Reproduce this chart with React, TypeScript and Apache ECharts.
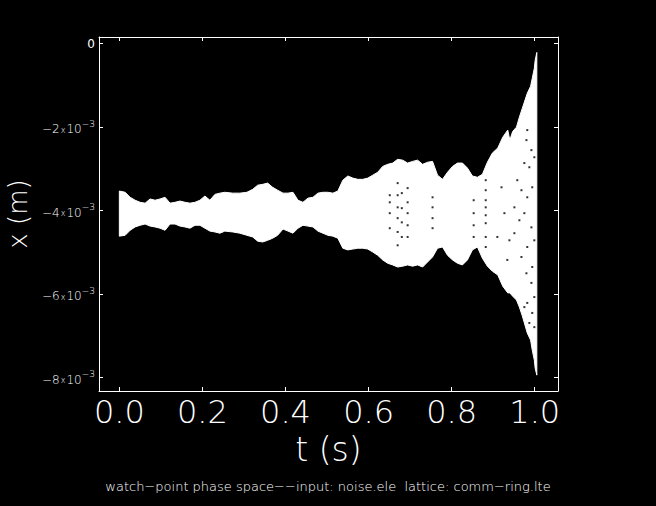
import React, { useEffect, useRef } from "react";
import * as echarts from "echarts";

// time samples (s)
const T = [0.000,0.014,0.026,0.038,0.050,0.062,0.074,0.086,0.098,0.110,0.122,0.134,0.146,0.158,0.170,0.182,0.194,0.206,0.218,0.230,0.242,0.254,
  0.273,0.290,0.307,0.321,0.333,0.345,0.357,0.369,0.381,0.394,0.406,0.418,0.430,0.442,0.454,0.466,0.478,0.490,0.502,0.514,0.526,0.538,0.550,
  0.562,0.574,0.586,0.598,0.610,0.622,0.634,0.646,0.658,0.670,0.682,0.694,0.706,0.718,0.730,0.742,0.754,0.766,0.778,0.790,0.802,0.814,0.826,
  0.838,0.850,0.862,0.874,0.886,0.898,0.911,0.923,0.935,0.940,0.947,0.956,0.963,0.970,0.975,0.982,0.990,0.994,0.999,1.001,1.005];

// upper envelope of x (units of 1e-3 m)
const UPPER = [-3.53,-3.56,-3.68,-3.75,-3.80,-3.82,-3.72,-3.75,-3.72,-3.68,-3.82,-3.80,-3.77,-3.80,-3.82,-3.80,-3.75,-3.65,-3.75,-3.61,-3.58,-3.56,
  -3.58,-3.58,-3.56,-3.49,-3.39,-3.37,-3.34,-3.44,-3.51,-3.58,-3.58,-3.56,-3.75,-3.80,-3.70,-3.68,-3.58,-3.56,-3.56,-3.58,-3.53,-3.27,-3.17,
  -3.22,-3.25,-3.25,-3.22,-3.15,-3.08,-2.94,-2.89,-2.86,-2.77,-2.79,-2.86,-2.82,-2.79,-2.89,-2.84,-2.82,-3.15,-3.25,-3.08,-2.94,-2.86,-2.86,
  -2.98,-3.17,-3.20,-3.13,-2.84,-2.62,-2.50,-2.24,-2.07,-2.31,-2.10,-2.00,-1.76,-1.55,-1.40,-1.19,-1.02,-0.83,-0.59,-0.40,-0.21];

// lower envelope of x (units of 1e-3 m)
const LOWER = [-4.61,-4.59,-4.47,-4.39,-4.35,-4.32,-4.37,-4.39,-4.42,-4.47,-4.32,-4.32,-4.37,-4.39,-4.42,-4.35,-4.35,-4.42,-4.49,-4.51,-4.54,-4.49,
  -4.51,-4.54,-4.59,-4.63,-4.73,-4.75,-4.71,-4.66,-4.59,-4.44,-4.49,-4.54,-4.42,-4.35,-4.37,-4.39,-4.49,-4.54,-4.59,-4.61,-4.66,-4.90,-4.94,
  -4.92,-4.90,-4.90,-4.92,-4.99,-5.07,-5.18,-5.26,-5.30,-5.35,-5.33,-5.30,-5.33,-5.30,-5.35,-5.23,-5.11,-4.90,-4.87,-5.07,-5.18,-5.26,-5.30,
  -5.18,-4.94,-4.87,-5.14,-5.33,-5.45,-5.54,-5.81,-5.97,-5.97,-6.05,-6.14,-6.31,-6.52,-6.69,-6.93,-7.10,-7.34,-7.58,-7.77,-7.94];

// gaps (empty spots) inside the band
const GAP_T = [0.651,0.651,0.651,0.651,0.670,0.670,0.670,0.670,0.670,0.670,0.680,0.680,0.680,0.680,0.694,0.694,0.694,0.694,0.694,
  0.754,0.754,0.754,0.754,0.853,0.853,0.853,0.853,0.882,0.882,0.882,0.882,0.882,0.882,0.882,0.882,
  0.982,0.980,0.992,0.999,0.987,0.975,0.958,0.968,0.982,0.994,0.951,0.963,0.975,0.992,0.999,0.939,0.927,0.982,0.968,0.994,0.951,
  0.980,0.992,0.999,0.982,0.994,0.999,0.987,0.975,0.934,0.920,0.910];
const GAP_X = [-3.63,-3.80,-4.06,-4.42,-3.34,-3.63,-3.92,-4.18,-4.51,-4.83,-3.58,-3.94,-4.28,-4.63,-3.46,-3.80,-4.06,-4.35,-4.63,
  -3.68,-3.92,-4.18,-4.42,-3.75,-4.06,-4.35,-4.63,-3.27,-3.51,-3.75,-3.92,-4.11,-4.30,-4.63,-4.87,
  -2.07,-2.31,-2.55,-2.72,-2.96,-2.86,-3.27,-3.51,-3.68,-3.44,-3.92,-4.23,-4.06,-4.40,-4.71,-4.71,-4.06,-4.87,-5.11,-5.35,-4.54,
  -5.50,-5.73,-6.07,-6.21,-6.45,-6.79,-6.69,-6.31,-5.18,-3.44,-4.63];

const Y_TICKS_MM = [0, -2, -4, -6, -8];

const FONT = '"DejaVu Sans ExtraLight", "DejaVu Sans", sans-serif';

export default function App() {
  const ref = useRef<HTMLDivElement>(null);
  useEffect(() => {
    if (!ref.current) return;
    document.body.style.background = "#000";
    const chart = echarts.init(ref.current, null, { renderer: "svg" });
    const n = Math.min(T.length, UPPER.length, LOWER.length);
    const band = [] as number[][];
    for (let i = 0; i < n; i++) band.push([T[i], UPPER[i] * 1e-3, LOWER[i] * 1e-3]);
    const gaps = GAP_T.map((t, i) => [t, GAP_X[i] * 1e-3]);
    const white = "#fff";
    const xLabel = (v: number) => {
      const k = v / 0.2;
      if (Math.abs(k - Math.round(k)) > 1e-6) return "";
      return v.toFixed(1);
    };
    const yLabel = (v: number) => {
      const k = Math.round(v * 1e3);
      if (Math.abs(v * 1e3 - k) > 1e-6 || Y_TICKS_MM.indexOf(k) < 0) return "";
      if (k === 0) return "0";
      return `{a|\u2212${Math.abs(k)}}{x|x}{a|10}{s|\u22123}`;
    };
    const axisCommon = {
      axisLine: { show: true, onZero: false, lineStyle: { color: white, width: 1 } },
      axisTick: { show: true, inside: true, length: 4, lineStyle: { color: white, width: 1 } },
      splitLine: { show: false },
    };
    chart.setOption({
      animation: false,
      backgroundColor: "#000",
      grid: { left: 99, right: 98, top: 37, bottom: 115, containLabel: false, outerBoundsMode: "none" },
      xAxis: [
        {
          type: "value", min: -0.049, max: 1.056, splitNumber: 5, position: "bottom",
          ...axisCommon,
          axisLabel: { color: white, fontSize: 32, fontFamily: FONT, fontWeight: 200, margin: 5, formatter: xLabel, showMinLabel: false, showMaxLabel: false },
          name: "t (s)", nameLocation: "middle", nameGap: 42,
          nameTextStyle: { color: white, fontSize: 33, fontFamily: FONT, fontWeight: 200 },
        },
        {
          type: "value", min: -0.049, max: 1.056, splitNumber: 5, position: "top",
          ...axisCommon, axisLabel: { show: false },
        },
      ],
      yAxis: [
        {
          type: "value", min: -8.32e-3, max: 0.16e-3, splitNumber: 5, position: "left",
          ...axisCommon,
          axisLabel: {
            color: white, fontFamily: FONT, fontSize: 12, margin: 4, formatter: yLabel,
            rich: {
              a: { color: white, fontFamily: FONT, fontSize: 12, fontWeight: 200, verticalAlign: "bottom", lineHeight: 16 },
              x: { color: white, fontFamily: FONT, fontSize: 8, fontWeight: 200, verticalAlign: "bottom", lineHeight: 16, padding: [0, 1, 1, 1] },
              s: { color: white, fontFamily: FONT, fontSize: 9, fontWeight: 200, verticalAlign: "top", lineHeight: 16 },
            },
          },
          name: "x (m)", nameLocation: "middle", nameGap: 62,
          nameTextStyle: { color: white, fontSize: 26, fontFamily: FONT, fontWeight: 200 },
        },
        {
          type: "value", min: -8.32e-3, max: 0.16e-3, splitNumber: 5, position: "right",
          ...axisCommon, axisLabel: { show: false },
        },
      ],
      series: [
        {
          type: "custom",
          data: [0],
          silent: true,
          clip: true,
          renderItem: (params: any, api: any) => {
            const top = band.map((d) => api.coord([d[0], d[1]]));
            const bot = band.map((d) => api.coord([d[0], d[2]])).reverse();
            return {
              type: "polygon",
              shape: { points: top.concat(bot) },
              style: { fill: white, stroke: white, lineWidth: 1 },
            };
          },
        },
        {
          type: "scatter", data: gaps, symbol: "rect", symbolSize: 2,
          itemStyle: { color: "#000" }, z: 5, silent: true,
        },
      ],
      graphic: [
        {
          type: "text", x: 328, y: 486,
          style: {
            text: "watch\u2212point phase space\u2212\u2212input: noise.ele  lattice: comm\u2212ring.lte",
            fill: white, fontFamily: FONT, fontSize: 13, fontWeight: 200, textAlign: "center", textVerticalAlign: "middle",
          },
        },
      ],
    });
    return () => chart.dispose();
  }, []);
  return (
    <div
      ref={ref}
      style={{ position: "fixed", left: 0, top: 0, width: 656, height: 506, background: "#000" }}
    />
  );
}
